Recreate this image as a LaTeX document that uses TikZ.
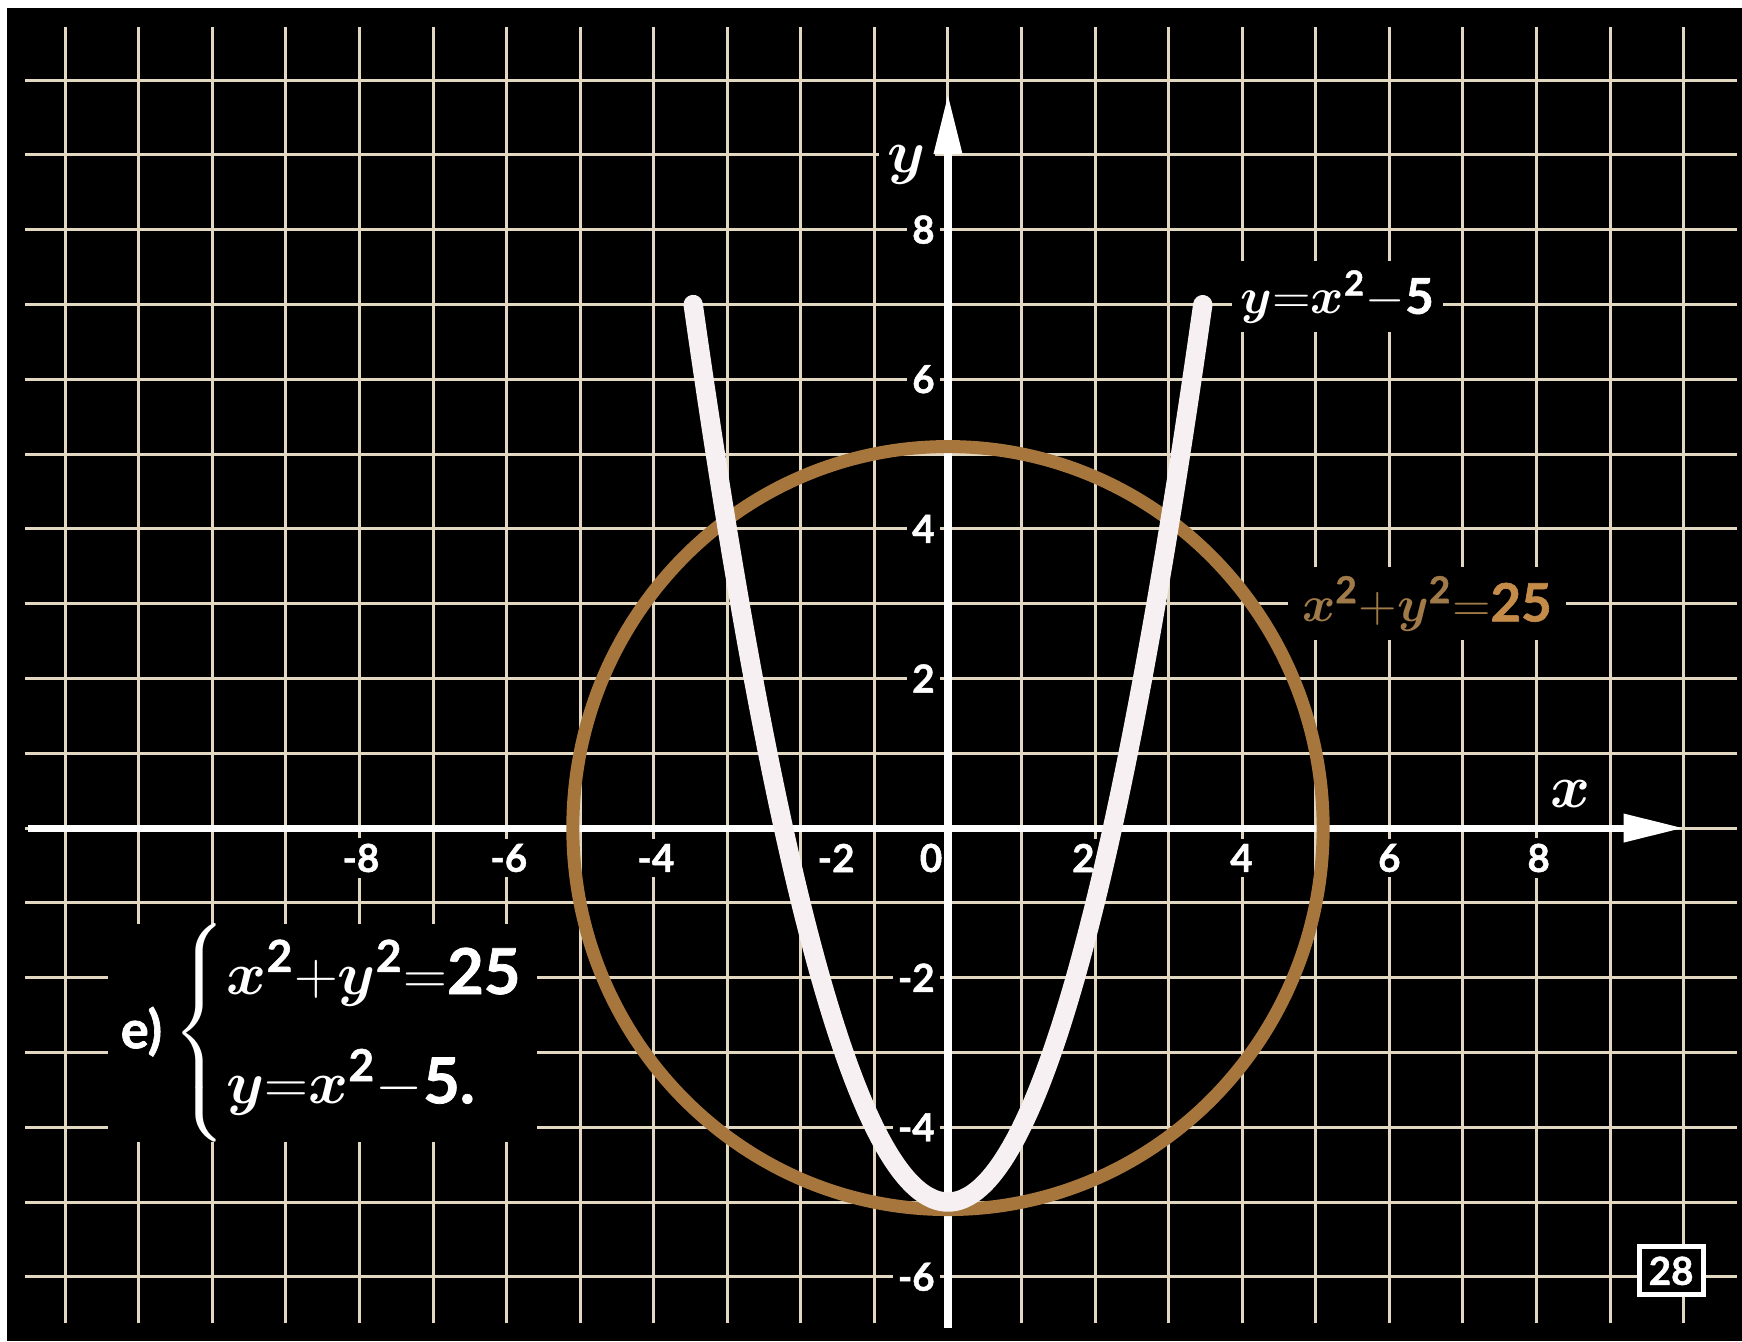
\documentclass[tikz,border=0pt]{standalone}
\usepackage{amsmath}
\usepackage{fontspec}
\setsansfont{Lato}[BoldFeatures={FakeBold=1.2}]
\usepackage{tikz}
\usetikzlibrary{arrows.meta, positioning}
\definecolor{cuadricula}{HTML}{E2D8C2}
\definecolor{cobre}{HTML}{A6763C}
\definecolor{tiza}{HTML}{F7F0F3}
\definecolor{ocre}{HTML}{A07A48}
\definecolor{ocreclaro}{HTML}{C48C48}
\newcommand{\cifra}[1]{\textsf{\bfseries #1}}
\tikzset{
  rejilla/.style={cuadricula, line width=0.85pt},
  eje/.style={white, line width=2pt, -{Triangle[length=0.6cm, width=0.27cm]}},
  marca/.style={fill=black, text=white, inner sep=1.5pt, font=\sffamily\bfseries\fontsize{11}{13}\selectfont},
  rotulo/.style={fill=black, text=white, inner sep=2.5pt},
  letraeje/.style={rotulo, font=\fontsize{17}{20}\selectfont},
  letraecu/.style={rotulo, font=\fontsize{14}{16}\selectfont},
  letrasis/.style={font=\fontsize{18}{22}\selectfont},
  curva/.style={line width=5.5pt, line cap=round},
}

\begin{document}
\begin{tikzpicture}[x=0.7356cm, y=0.748cm]
  \useasboundingbox[fill=white] (-12.887,-6.858) rectangle (10.794,11.070);
  \fill[black] (-12.792,-6.858) rectangle (10.794,10.963);
  \foreach \x in {-12,...,10} \draw[rejilla] (\x,-6.62) -- (\x,10.71);
  \foreach \y in {-6,...,10} \draw[rejilla] (-12.55,\y) -- (10.73,\y);
  \foreach \lab/\pos [count=\i] in {-8/-7.98, -6/-5.97, -4/-3.97, -2/-1.52, 0/-0.23, 2/1.84, 4/3.99, 6/6.0, 8/8.03}
    \node[marca] (xt\i) at (\pos,-0.4) {\lab};
  \foreach \lab [count=\i] in {8,6,4,2,-2,-4,-6}
    \node[marca, anchor=east] (yt\i) at (-0.1,\lab) {\lab};
  \node[letraeje] (ly) at (-0.56,8.86) {$\boldsymbol{y}$};
  \node[letraeje] (lx) at (8.46,0.45) {$\boldsymbol{x}$};
  \node[letraecu] (lparabola) at (5.29,7.1) {$\boldsymbol{y}{=}\boldsymbol{x}^{\cifra{2}}{-}\cifra{5}$};
  \node[letraecu, text=ocre, inner xsep=4pt, font=\fontsize{15}{18}\selectfont] (lcirculo) at (6.51,3.0)
    {$\boldsymbol{x}^{\cifra{2}}{+}\boldsymbol{y}^{\cifra{2}}{=}$\textcolor{ocreclaro}{\cifra{25}}};
  \node[letrasis, fill=black, text=white, minimum width=4.29cm, minimum height=1.95cm, inner sep=0pt] (sistema) at (-8.5,-2.74)
    {{\fontsize{15}{18}\selectfont\cifra{e)}}\hspace{3pt}\delimitershortfall=0pt\delimiterfactor=1000%
     $\left\{\rule[-0.79cm]{0pt}{1.58cm}\begin{array}{@{}l@{}} \boldsymbol{x}^{\cifra{2}}{+}\boldsymbol{y}^{\cifra{2}}{=}\cifra{25}\\[9pt] \boldsymbol{y}{=}\boldsymbol{x}^{\cifra{2}}{-}\cifra{5.}\end{array}\right.$};
  \node[draw=white, line width=1.4pt, fill=black, text=white, minimum width=0.64cm, minimum height=0.48cm,
        inner sep=0pt, font=\sffamily\bfseries\fontsize{11}{13}\selectfont] (pagina) at (9.83,-5.92) {28};
  \coordinate (xizq) at (-12.5,0);
  \coordinate (xder) at (10,0);
  \coordinate (yabajo) at (0,-6.68);
  \coordinate (yarriba) at (0,9.81);
  \draw[eje] (xizq) -- (xder);
  \draw[eje] (yabajo) -- (yarriba);
  \draw[cobre, line width=3.7pt] (0,0) circle (5.1);
  \draw[curva, tiza] plot[domain=-3.464:3.464, samples=80, smooth] (\x,{\x*\x-5});
\end{tikzpicture}
\end{document}
